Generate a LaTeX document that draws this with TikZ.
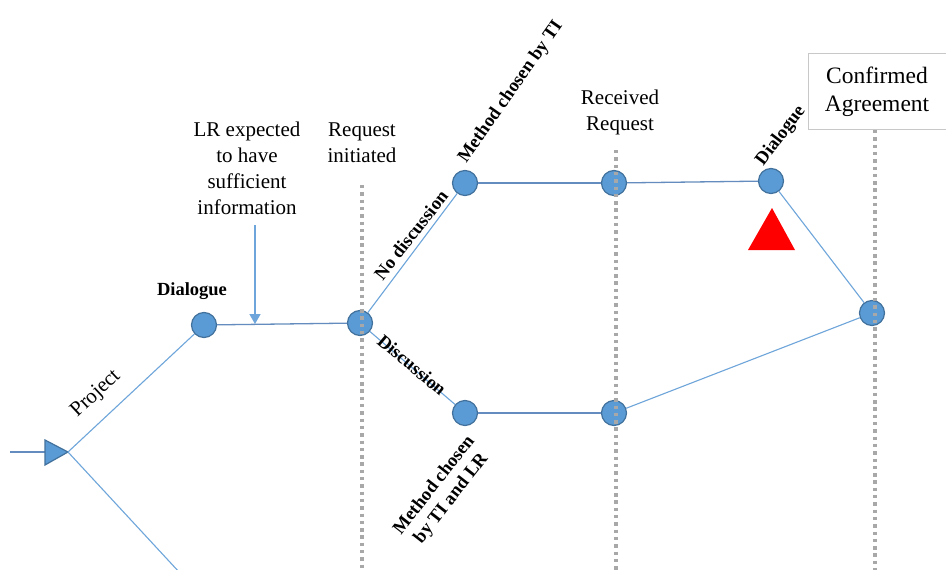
\documentclass[tikz,border=0pt]{standalone}
\usepackage{fontspec}
\setmainfont{Liberation Serif}
\usetikzlibrary{arrows.meta}
\definecolor{nodefill}{RGB}{91,155,213}
\definecolor{nodeedge}{RGB}{65,113,156}
\definecolor{linkblue}{RGB}{110,165,218}
\definecolor{hlink}{RGB}{100,140,190}
\definecolor{dotgray}{RGB}{168,168,168}
\definecolor{boxgray}{RGB}{200,200,200}
\begin{document}
\begin{tikzpicture}[x=1pt,y=-1pt,
  event/.style={circle,fill=nodefill,draw=nodeedge,line width=1.2pt,minimum size=25pt,inner sep=0pt},
  link/.style={draw=linkblue,line width=1.1pt},
  hl/.style={draw=hlink,line width=1.3pt},
  milestone/.style={draw=dotgray,line width=3.2pt,dash pattern=on 3.4pt off 3.9pt},
  plain/.style={font=\fontsize{21}{26}\selectfont,align=center,inner sep=0pt},
  boldlab/.style={font=\fontsize{18.5}{21.5}\selectfont\bfseries,align=center,inner sep=0pt}]
\useasboundingbox (0,0) rectangle (946,570);
\fill[white] (0,0) rectangle (946,570);
% start triangle
\coordinate (startin) at (10,452);
\coordinate (start) at (68,452);
\coordinate (exit) at (180,573);
\draw[hl] (startin) -- (45,452);
\filldraw[fill=nodefill,draw=nodeedge,line width=1.2pt,line join=miter] (45,440) -- (start) -- (45,465) -- cycle;
% nodes
\node[event] (d1) at (204,325) {};
\node[event] (ri) at (360,323) {};
\node[event] (up1) at (465,183) {};
\node[event] (lo1) at (465,413) {};
\node[event] (up2) at (614,183) {};
\node[event] (lo2) at (614,413) {};
\node[event] (dl2) at (771,181) {};
\node[event] (ca) at (872,313) {};
% connectors
\draw[link] (start) -- (d1);
\draw[link] (start) -- (exit);
\draw[hl] (d1) -- (ri);
\draw[link] (ri) -- (up1);
\draw[link] (ri) -- (lo1);
\draw[hl] (up1) -- (up2);
\draw[hl] (up2) -- (dl2);
\draw[link] (dl2) -- (ca);
\draw[hl] (lo1) -- (lo2);
\draw[link] (lo2) -- (ca);
% LR arrow
\coordinate (lrtop) at (255,225);
\coordinate (lrend) at (255,324);
\draw[draw=linkblue,line width=1.4pt,-{Triangle[width=11pt,length=10pt,fill=linkblue]}] (lrtop) -- (lrend);
% milestones
\coordinate (m1a) at (362,185); \coordinate (m1b) at (362,572);
\coordinate (m2a) at (616,150); \coordinate (m2b) at (616,572);
\coordinate (m3a) at (875,130); \coordinate (m3b) at (875,572);
\draw[milestone] (m1a) -- (m1b);
\draw[milestone] (m2a) -- (m2b);
\draw[milestone] (m3a) -- (m3b);
% red triangle
\fill[red] (772,208) -- (795,250) -- (748,250) -- cycle;
% confirmed agreement box
\node[draw=boxgray,fill=white,line width=1pt,minimum width=150pt,minimum height=76pt,anchor=north west,inner sep=0pt] (cabox) at (808,53) {};
\node[font=\fontsize{23.5}{28}\selectfont,align=center,inner sep=0pt] (catext) at (877,92) {Confirmed\\Agreement};
% labels
\node[plain] (lrtext) at (247,168) {LR expected\\to have\\sufficient\\information};
\node[plain] (ritext) at (362,143) {Request\\initiated};
\node[plain] (rrtext) at (620,112) {Received\\Request};
\node[plain,rotate=43] (projtext) at (96,394) {Project};
\node[boldlab] (d1text) at (192,291) {Dialogue};
\node[boldlab,rotate=52] (nodisc) at (411,235) {No discussion};
\node[boldlab,rotate=55] (mti) at (511,92) {Method chosen by TI};
\node[boldlab,rotate=-40] (disc) at (412,365) {Discussion};
\node[boldlab,rotate=52] (mtilr) at (443,492) {Method chosen\\by TI and LR};
\node[boldlab,rotate=53] (d2text) at (781,136) {Dialogue};
\end{tikzpicture}
\end{document}
